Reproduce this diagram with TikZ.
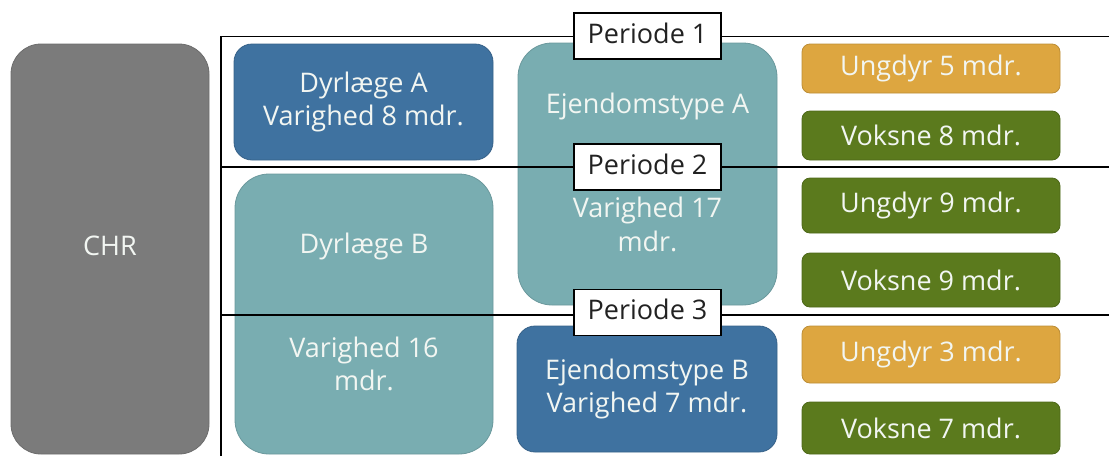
\documentclass[tikz,border=0pt]{standalone}
\usepackage{fontspec}
\setmainfont{Open Sans}
\definecolor{chrgray}{HTML}{7B7B7B}
\definecolor{deepblue}{HTML}{3F72A0}
\definecolor{tealbox}{HTML}{79ADB1}
\definecolor{ochre}{HTML}{DDA640}
\definecolor{olive}{HTML}{5B7A1D}
\definecolor{lighttext}{HTML}{F2F6F2}
\definecolor{darktext}{HTML}{222222}
\begin{document}
\begin{tikzpicture}[x=1pt,y=-1pt,
  card/.style={rounded corners=#1, inner sep=0pt, line width=0.8pt,
    text=lighttext, align=center, font=\fontsize{27}{33}\selectfont},
  card/.default=18pt,
  graycard/.style={card=30pt, fill=chrgray, draw=chrgray!88!black},
  bluecard/.style={card=18pt, fill=deepblue, draw=deepblue!85!black},
  tealcard/.style={card=34pt, fill=tealbox, draw=tealbox!88!black},
  ochrecard/.style={card=8pt, fill=ochre, draw=ochre!85!black},
  olivecard/.style={card=8pt, fill=olive, draw=olive!85!black},
  caption/.style={inner sep=0pt, anchor=base, text=lighttext,
    font=\fontsize{27}{33}\selectfont},
  divider/.style={line width=1.8pt, black},
  periodlabel/.style={draw=black, line width=1.3pt, fill=white, inner sep=0pt,
    minimum width=147pt, minimum height=46pt, text height=20pt, text depth=6pt,
    text=darktext, font=\fontsize{27}{33}\selectfont}
]
\useasboundingbox (0,0) rectangle (1109,456);

% left column
\node[graycard, minimum width=198pt, minimum height=410pt] (chr) at (110,249) {};
\node[caption] (chrtxt) at (110,255) {CHR};

% veterinarians
\node[bluecard, minimum width=259pt, minimum height=116pt] (dyrA) at (363.5,102)
  {Dyrlæge A\\Varighed 8 mdr.};
\node[tealcard, minimum width=258pt, minimum height=280pt] (dyrB) at (364,314) {};
\node[caption] (dyrBa) at (364,253) {Dyrlæge B};
\node[caption] (dyrBb) at (364,357) {Varighed 16};
\node[caption] (dyrBc) at (364,390) {mdr.};

% property types
\node[tealcard, minimum width=259pt, minimum height=262pt] (ejdA) at (647.5,174) {};
\node[caption] (ejdAa) at (647.5,113) {Ejendomstype A};
\node[caption] (ejdAb) at (647.5,217) {Varighed 17};
\node[caption] (ejdAc) at (647.5,251) {mdr.};
\node[bluecard, minimum width=260pt, minimum height=126pt] (ejdB) at (647,389)
  {Ejendomstype B\\Varighed 7 mdr.};

% animal groups
\node[ochrecard, minimum width=258pt, minimum height=49pt] (ung5) at (931,68.5) {Ungdyr 5 mdr.};
\node[olivecard, minimum width=258pt, minimum height=49pt] (vok8) at (931,135.5) {Voksne 8 mdr.};
\node[olivecard, minimum width=258pt, minimum height=55pt] (ung9) at (931,205.5) {Ungdyr 9 mdr.};
\node[olivecard, minimum width=258pt, minimum height=54pt] (vok9) at (931,280) {Voksne 9 mdr.};
\node[ochrecard, minimum width=258pt, minimum height=57pt] (ung3) at (931,354.5) {Ungdyr 3 mdr.};
\node[olivecard, minimum width=258pt, minimum height=52pt] (vok7) at (931,428) {Voksne 7 mdr.};

% period frame
\coordinate (p1l) at (221,36.5);
\coordinate (p1r) at (1109,36.5);
\coordinate (p2l) at (221,167);
\coordinate (p2r) at (1109,167);
\coordinate (p3l) at (221,315);
\coordinate (p3r) at (1109,315);
\coordinate (frameBottom) at (221,456);
\draw[divider] (frameBottom) -- (p1l) -- (p1r);
\draw[divider] (p2l) -- (p2r);
\draw[divider] (p3l) -- (p3r);

\node[periodlabel] (per1) at (647.5,36) {Periode 1};
\node[periodlabel] (per2) at (647.5,167) {Periode 2};
\node[periodlabel] (per3) at (647.5,312.5) {Periode 3};
\end{tikzpicture}
\end{document}
